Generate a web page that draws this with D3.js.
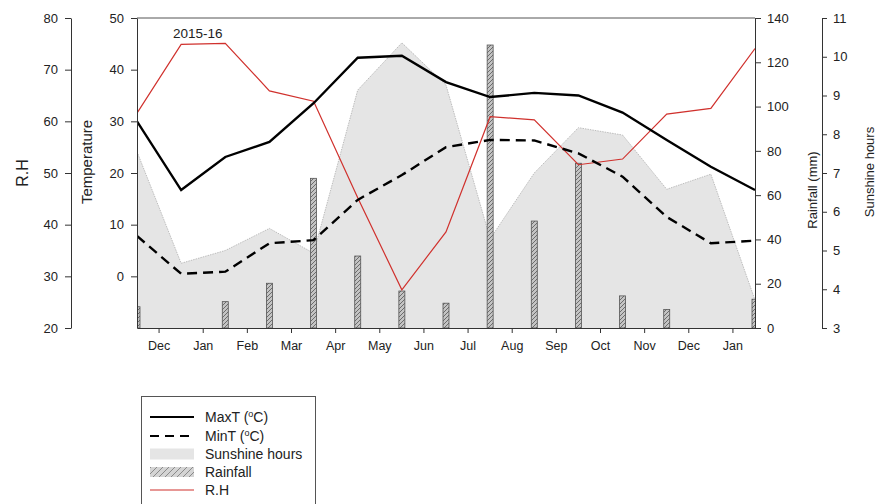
<!DOCTYPE html>
<html><head><meta charset="utf-8">
<script src="https://cdn.jsdelivr.net/npm/d3@7"></script>
<style>
body{margin:0;background:#fff;}
text{font-family:Arial,"Liberation Sans",sans-serif;fill:#222;}
</style></head>
<body><svg id="c" width="878" height="504"></svg>
<script>
const months = ["Dec","Jan","Feb","Mar","Apr","May","Jun","Jul","Aug","Sep","Oct","Nov","Dec","Jan"];
const maxT = [30, 16.7, 23.1, 26, 33.5, 42.3, 42.7, 37.6, 34.7, 35.5, 35.0, 31.7, 26.4, 21.2, 16.7];
const minT = [7.8, 0.5, 0.9, 6.4, 7.0, 14.8, 19.6, 25.0, 26.4, 26.3, 23.8, 19.3, 11.5, 6.4, 6.9];
const rh = [61.6, 74.9, 75.1, 65.9, 63.9, 45.2, 27.4, 38.6, 60.9, 60.3, 51.6, 52.7, 61.4, 62.5, 74.1];
const sunshine = [7.55, 4.67, 5.0, 5.57, 4.93, 9.14, 10.36, 9.27, 5.3, 7.0, 8.17, 7.98, 6.58, 6.97, 3.72];
const rainfall = [9.6, 0, 11.9, 20.2, 67.6, 32.5, 16.7, 11.2, 127.8, 48.3, 74.4, 14.5, 8.4, 0, 13.0];
const tempTicks = [0,10,20,30,40,50];
const rhTicks = [20,30,40,50,60,70,80];
const rainTicks = [0,20,40,60,80,100,120,140];
const sunTicks = [3,4,5,6,7,8,9,10,11];
const seasonLabel = "2015-16";

const svg = d3.select("#c");
const L=137, R=755, T=18, B=328;
const idx = d3.range(maxT.length);
const x = d3.scaleLinear().domain([0, maxT.length-1]).range([L,R]);
const xBand = d3.scaleBand().domain(d3.range(months.length)).range([L,R]);
const yT = d3.scaleLinear().domain([-10,50]).range([B,T]);
const yRH = d3.scaleLinear().domain([20,80]).range([B,T]);
const yRain = d3.scaleLinear().domain([0,140]).range([B,T]);
const ySun = d3.scaleLinear().domain([3,11]).range([B,T]);

const defs = svg.append("defs");
defs.append("clipPath").attr("id","clip").append("rect").attr("x",L).attr("y",T).attr("width",R-L).attr("height",B-T);
const pat = defs.append("pattern").attr("id","hatch").attr("patternUnits","userSpaceOnUse").attr("width",4).attr("height",4);
pat.append("rect").attr("width",4).attr("height",4).attr("fill","#c4c4c4");
pat.append("path").attr("d","M-1,1 l2,-2 M0,4 l4,-4 M3,5 l2,-2").attr("stroke","#555").attr("stroke-width",0.8);
const pat2 = defs.append("pattern").attr("id","hatchL").attr("patternUnits","userSpaceOnUse").attr("width",6).attr("height",6);
pat2.append("rect").attr("width",6).attr("height",6).attr("fill","#d4d4d4");
pat2.append("path").attr("d","M-1.5,1.5 l3,-3 M0,6 l6,-6 M4.5,7.5 l3,-3").attr("stroke","#777").attr("stroke-width",0.8);

// sunshine area
const g = svg.append("g").attr("clip-path","url(#clip)");
g.append("path").datum(idx)
 .attr("d", d3.area().x(i=>x(i)).y0(B).y1(i=>ySun(sunshine[i])))
 .attr("fill","#e5e5e5");
g.append("path").datum(idx)
 .attr("d", d3.line().x(i=>x(i)).y(i=>ySun(sunshine[i])))
 .attr("fill","none").attr("stroke","#b0b0b0").attr("stroke-width",0.8).attr("stroke-dasharray","1.5,1");

// rainfall bars
const bw = 6;
g.selectAll("rect.bar").data(idx.filter(i=>rainfall[i]>0)).join("rect")
 .attr("x", i=>x(i)-bw/2).attr("width", bw)
 .attr("y", i=>yRain(rainfall[i])).attr("height", i=>B-yRain(rainfall[i]))
 .attr("fill","url(#hatch)").attr("stroke","#555").attr("stroke-width",0.8);

// lines
g.append("path").datum(idx).attr("d", d3.line().x(i=>x(i)).y(i=>yRH(rh[i])))
 .attr("fill","none").attr("stroke","#d0312d").attr("stroke-width",1.2);
g.append("path").datum(idx).attr("d", d3.line().x(i=>x(i)).y(i=>yT(minT[i])))
 .attr("fill","none").attr("stroke","#000").attr("stroke-width",2.4).attr("stroke-dasharray","10,6");
g.append("path").datum(idx).attr("d", d3.line().x(i=>x(i)).y(i=>yT(maxT[i])))
 .attr("fill","none").attr("stroke","#000").attr("stroke-width",2.4);

// frame top
svg.append("line").attr("x1",L).attr("x2",R).attr("y1",T).attr("y2",T).attr("stroke","#555").attr("stroke-width",1);

function styleAxis(sel){
  sel.selectAll(".domain").attr("stroke","#333");
  sel.selectAll(".tick line").attr("stroke","#333");
  sel.selectAll(".tick text").attr("font-size",13).attr("fill","#222").attr("font-family","Arial, 'Liberation Sans', sans-serif");
}
// axes
const ax = svg.append("g").attr("transform",`translate(0,${B})`)
 .call(d3.axisBottom(xBand).tickFormat(i=>months[i]).tickSize(5).tickSizeOuter(0).tickPadding(8));
styleAxis(ax); ax.selectAll(".tick text").attr("font-size",12.5);
const at = svg.append("g").attr("transform",`translate(${L},0)`)
 .call(d3.axisLeft(yT).tickValues(tempTicks).tickSize(6).tickSizeOuter(0).tickPadding(7));
styleAxis(at);
const arh = svg.append("g").attr("transform",`translate(71,0)`)
 .call(d3.axisLeft(yRH).tickValues(rhTicks).tickSize(6).tickSizeOuter(0).tickPadding(7));
styleAxis(arh);
const ar = svg.append("g").attr("transform",`translate(${R},0)`)
 .call(d3.axisRight(yRain).tickValues(rainTicks).tickSize(6).tickSizeOuter(0).tickPadding(6));
styleAxis(ar);
const as = svg.append("g").attr("transform",`translate(822,0)`)
 .call(d3.axisRight(ySun).tickValues(sunTicks).tickSize(5).tickSizeOuter(0).tickPadding(6));
styleAxis(as);

// titles
function vtitle(tx, ty, txt, fs){
  svg.append("text").attr("transform",`translate(${tx},${ty}) rotate(-90)`).attr("text-anchor","middle")
   .attr("font-size",fs).text(txt);
}
vtitle(28, 173, "R.H", 16);
vtitle(92, 162, "Temperature", 15);
vtitle(817, 190, "Rainfall (mm)", 13);
vtitle(874, 172, "Sunshine hours", 13);

svg.append("text").attr("x",173).attr("y",38).attr("font-size",13.5).text(seasonLabel);

// legend
const lg = svg.append("g");
lg.append("rect").attr("x",141.5).attr("y",396.5).attr("width",174).attr("height",120).attr("fill","#fff").attr("stroke","#555");
const lx1=150, lx2=194, tx=205;
const rows=[417,436,454,472,490];
lg.append("line").attr("x1",lx1).attr("x2",lx2).attr("y1",rows[0]).attr("y2",rows[0]).attr("stroke","#000").attr("stroke-width",2);
lg.append("line").attr("x1",lx1).attr("x2",lx2).attr("y1",rows[1]).attr("y2",rows[1]).attr("stroke","#000").attr("stroke-width",2).attr("stroke-dasharray","9,6");
lg.append("rect").attr("x",lx1).attr("y",rows[2]-5.5).attr("width",lx2-lx1).attr("height",11).attr("fill","#e5e5e5");
lg.append("rect").attr("x",lx1).attr("y",rows[3]-5).attr("width",lx2-lx1).attr("height",10).attr("fill","url(#hatchL)");
lg.append("line").attr("x1",lx1).attr("x2",lx2).attr("y1",rows[4]).attr("y2",rows[4]).attr("stroke","#d0312d").attr("stroke-width",1.2);
function lt(y, parts){
  const t = lg.append("text").attr("x",tx).attr("y",y+5).attr("font-size",14);
  parts.forEach(p=>{
    const s = t.append("tspan").text(p.t);
    if(p.sup) s.attr("font-size",9).attr("dy",-5);
    if(p.after) s.attr("dy",5);
  });
}
lt(rows[0],[{t:"MaxT ("},{t:"o",sup:true},{t:"C)",after:true}]);
lt(rows[1],[{t:"MinT ("},{t:"o",sup:true},{t:"C)",after:true}]);
lt(rows[2],[{t:"Sunshine hours"}]);
lt(rows[3],[{t:"Rainfall"}]);
lt(rows[4],[{t:"R.H"}]);
</script></body></html>
